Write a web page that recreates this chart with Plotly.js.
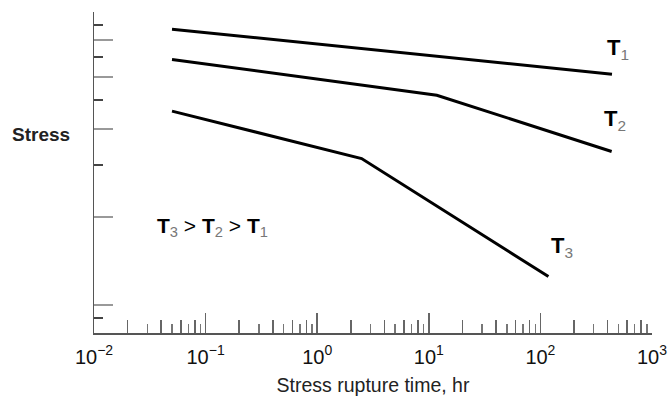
<!DOCTYPE html>
<html>
<head>
<meta charset="utf-8">
<script src="https://cdn.plot.ly/plotly-3.0.1.min.js"></script>
<style>html,body{margin:0;padding:0;background:#fff;}#chart{width:669px;height:399px;}</style>
</head>
<body>
<div id="chart"></div>
<script>
// Stress rupture time (hr) and relative stress for each temperature
const t1Time = [0.05, 10, 438];
const t1Stress = [8.74, 7.12, 6.13];
const t2Time = [0.05, 11.8, 435];
const t2Stress = [6.89, 5.20, 3.34];
const t3Time = [0.05, 2.5, 118];
const t3Stress = [4.59, 3.16, 1.25];

// Axis tick values / labels
const xMajorTicks = [0.01, 0.1, 1, 10, 100, 1000];
const xMajorLabels = ['10<sup>−2</sup>', '10<sup>−1</sup>', '10<sup>0</sup>', '10<sup>1</sup>', '10<sup>2</sup>', '10<sup>3</sup>'];
const xEvenMinor = [0.02,0.04,0.06,0.08, 0.2,0.4,0.6,0.8, 2,4,6,8, 20,40,60,80, 200,400,600,800];
const xOddMinor = [0.03,0.05,0.07,0.09, 0.3,0.5,0.7,0.9, 3,5,7,9, 30,50,70,90, 300,500,700,900];
const yLongTicks = [1, 2, 4, 6, 8, 10];
const yShortTicks = [0.9, 3, 5, 7, 9];

const lineStyle = {color: '#000', width: 3};
const traces = [
  {x: t1Time, y: t1Stress, mode: 'lines', line: lineStyle, name: 'T1', hoverinfo: 'skip'},
  {x: t2Time, y: t2Stress, mode: 'lines', line: lineStyle, name: 'T2', hoverinfo: 'skip'},
  {x: t3Time, y: t3Stress, mode: 'lines', line: lineStyle, name: 'T3', hoverinfo: 'skip'},
  // empty carriers so the overlaid tick-only axes get drawn
  {x: [], y: [], xaxis: 'x2', yaxis: 'y', mode: 'lines', hoverinfo: 'skip'},
  {x: [], y: [], xaxis: 'x3', yaxis: 'y', mode: 'lines', hoverinfo: 'skip'},
  {x: [], y: [], xaxis: 'x', yaxis: 'y2', mode: 'lines', hoverinfo: 'skip'}
];

const xRange = [-2, 3];
const yRange = [-0.0956, 1];
const font = 'Liberation Sans, Arial, sans-serif';

const sub = (d) => '<b>T</b><sub><span style="color:#777">' + d + '</span></sub>';

const layout = {
  width: 669, height: 399,
  margin: {l: 94, r: 17, t: 12, b: 66},
  paper_bgcolor: '#fff', plot_bgcolor: '#fff',
  showlegend: false,
  font: {family: font, color: '#000'},
  xaxis: {
    type: 'log', range: xRange, showgrid: false, zeroline: false,
    showline: true, linecolor: '#555', linewidth: 1.5,
    ticks: 'inside', ticklen: 20, tickwidth: 1.5, tickcolor: '#666',
    tickmode: 'array', tickvals: xMajorTicks, ticktext: xMajorLabels,
    ticklabelstandoff: 5,
    tickfont: {family: font, size: 20, color: '#111'},
    title: {text: 'Stress rupture time, hr', font: {family: font, size: 19.5, color: '#222'}, standoff: 12}
  },
  xaxis2: {
    type: 'log', range: xRange, overlaying: 'x', anchor: 'y', side: 'bottom',
    showgrid: false, zeroline: false, showline: false, showticklabels: false,
    ticks: 'inside', ticklen: 13, tickwidth: 1.5, tickcolor: '#666',
    tickmode: 'array', tickvals: xEvenMinor
  },
  xaxis3: {
    type: 'log', range: xRange, overlaying: 'x', anchor: 'y', side: 'bottom',
    showgrid: false, zeroline: false, showline: false, showticklabels: false,
    ticks: 'inside', ticklen: 9, tickwidth: 1.5, tickcolor: '#777',
    tickmode: 'array', tickvals: xOddMinor
  },
  yaxis: {
    type: 'log', range: yRange, showgrid: false, zeroline: false,
    showline: true, linecolor: '#555', linewidth: 1.5,
    ticks: 'inside', ticklen: 19, tickwidth: 2, tickcolor: '#999',
    tickmode: 'array', tickvals: yLongTicks, showticklabels: false
  },
  yaxis2: {
    type: 'log', range: yRange, overlaying: 'y', anchor: 'x', side: 'left',
    showgrid: false, zeroline: false, showline: false, showticklabels: false,
    ticks: 'inside', ticklen: 9, tickwidth: 2, tickcolor: '#444',
    tickmode: 'array', tickvals: yShortTicks
  },
  annotations: [
    {text: '<b>Stress</b>', xref: 'paper', yref: 'paper', x: -0.095, y: 0.617, xanchor: 'center', yanchor: 'middle', showarrow: false, font: {family: font, size: 19, color: '#222'}},
    {text: sub(1), xref: 'paper', yref: 'paper', x: 0.916, y: 0.885, xanchor: 'left', yanchor: 'middle', showarrow: false, font: {family: font, size: 22, color: '#000'}},
    {text: sub(2), xref: 'paper', yref: 'paper', x: 0.911, y: 0.664, xanchor: 'left', yanchor: 'middle', showarrow: false, font: {family: font, size: 22, color: '#000'}},
    {text: sub(3), xref: 'paper', yref: 'paper', x: 0.816, y: 0.268, xanchor: 'left', yanchor: 'middle', showarrow: false, font: {family: font, size: 22, color: '#000'}},
    {text: sub(3) + ' > ' + sub(2) + ' > ' + sub(1), xref: 'paper', yref: 'paper', x: 0.2115, y: 0.33, xanchor: 'center', yanchor: 'middle', showarrow: false, font: {family: font, size: 21, color: '#000'}}
  ]
};

Plotly.newPlot('chart', traces, layout, {staticPlot: true, displayModeBar: false});
</script>
</body>
</html>
